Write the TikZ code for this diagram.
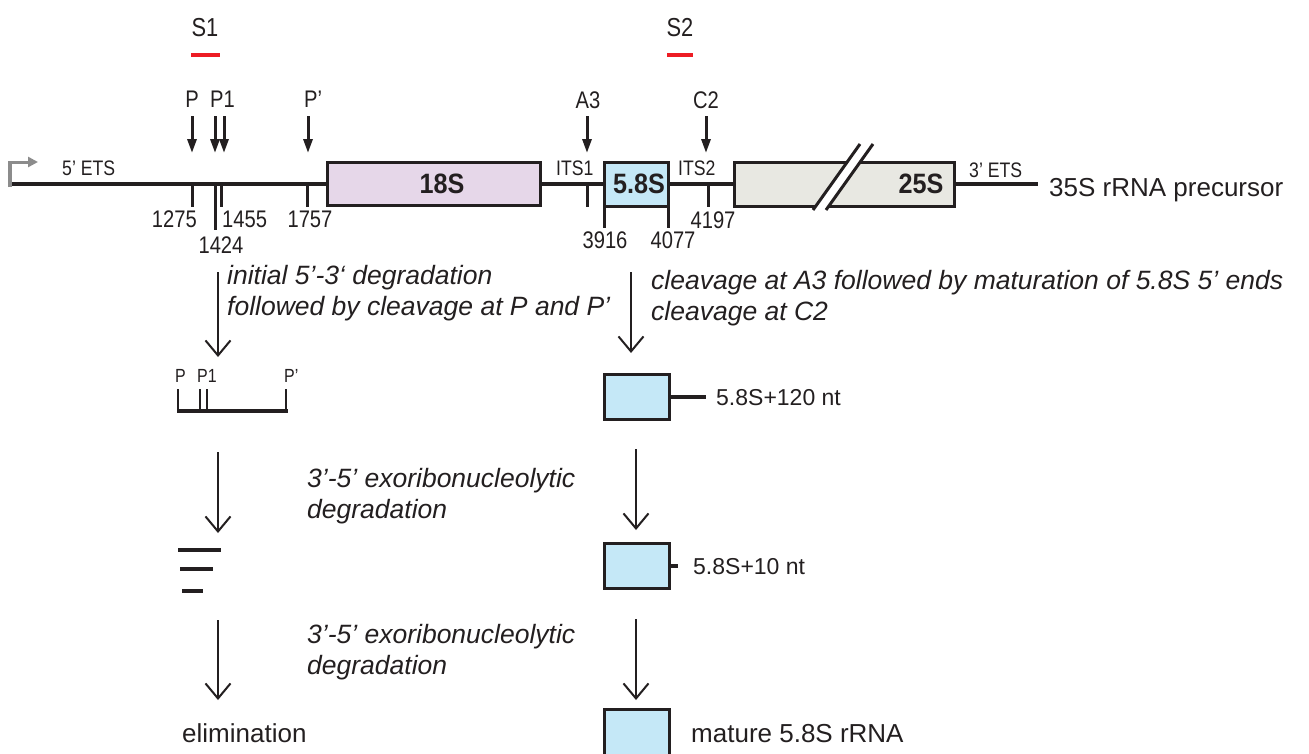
\documentclass[tikz,border=0pt]{standalone}
\usepackage{fontspec}
\setmainfont{Liberation Sans}
\newfontfamily\condf[FakeStretch=0.84]{Liberation Sans}
\newfontfamily\condbf[FakeStretch=0.9]{Liberation Sans Bold}
\usetikzlibrary{arrows.meta}
\definecolor{ink}{HTML}{231F20}
\definecolor{c18}{HTML}{E6D7E9}
\definecolor{c58}{HTML}{C5E8F7}
\definecolor{c25}{HTML}{E8E8E2}
\definecolor{sred}{HTML}{ED1C24}
\definecolor{pgray}{HTML}{8C8C8C}
\newcommand\setfs[1]{\fontsize{#1}{#1}\selectfont}
\tikzset{
  txt/.style={inner sep=0pt, text=ink},
  bigtxt/.style={txt, font=\setfs{26}},
  midtxt/.style={txt, font=\setfs{23}},
  itxt/.style={txt, font=\itshape\setfs{26.5}},
  slbl/.style={txt, font=\condf\setfs{26}},
  clbl/.style={txt, font=\condf\setfs{24}},
  etslbl/.style={txt, font=\condf\setfs{21}},
  tinylbl/.style={txt, font=\condf\setfs{19}},
  boxlbl/.style={txt, font=\condbf\setfs{28}},
  rna/.style={draw=ink, line width=4.5pt},
  tickln/.style={draw=ink, line width=3pt},
  boxln/.style={draw=ink, line width=3pt},
  probe/.style={draw=sred, line width=4pt},
  cutarrow/.style={draw=ink, line width=3pt, -{Triangle[length=14pt,width=9pt]}},
  flowarrow/.style={draw=ink, line width=2pt, -{Straight Barb[length=15pt,width=25pt]}},
}
\begin{document}
\begin{tikzpicture}[x=1pt,y=-1pt]
\useasboundingbox (0,0) rectangle (1309,753);

% probes
\node[slbl, anchor=base] (s1) at (205,36) {S1};
\node[slbl, anchor=base] (s2) at (680,36) {S2};
\coordinate (s1a) at (191,55); \coordinate (s1b) at (220,55);
\coordinate (s2a) at (667,55); \coordinate (s2b) at (693,55);
\draw[probe] (s1a) -- (s1b);
\draw[probe] (s2a) -- (s2b);

% cleavage site labels
\node[clbl, anchor=base] (lP) at (192,107) {P};
\node[clbl, anchor=base west] (lP1) at (210,107) {P1};
\node[clbl, anchor=base west] (lPp) at (304,107) {P’};
\node[clbl, anchor=base] (lA3) at (588,108) {A3};
\node[clbl, anchor=base] (lC2) at (706,108) {C2};

% cleavage arrows
\foreach \n/\x in {P/192, Pa/215, Pb/224, Pp/308, A/587, C/706}{
  \coordinate (t\n) at (\x,116);
  \coordinate (h\n) at (\x,153);
  \draw[cutarrow] (t\n) -- (h\n);
}

% promoter
\coordinate (pr0) at (10,187);
\coordinate (pr1) at (10,162);
\coordinate (pr2) at (38,162);
\draw[draw=pgray, line width=4.5pt] (pr0) -- (10,160.5);
\draw[draw=pgray, line width=3pt, -{Triangle[length=10pt,width=10pt]}] (8,162) -- (pr2);

% main line
\coordinate (m0) at (12,184);
\coordinate (m1) at (1038,184);
\draw[rna] (m0) -- (m1);

% boxes
\draw[boxln, fill=c18] (327,162) rectangle (540,205);
\draw[boxln, fill=c58] (604,162) rectangle (668,206);
\draw[boxln, fill=c25] (734,162) rectangle (954,206);
\fill[white] (813,210) -- (860,144) -- (873,144) -- (826,210) -- cycle;
\draw[boxln] (813,210) -- (860,144);
\draw[boxln] (826,210) -- (873,144);

\node[boxlbl, anchor=base] (n18) at (442,193) {18S};
\node[boxlbl, anchor=base] (n58) at (639,193) {5.8S};
\node[boxlbl, anchor=base] (n25) at (921,193) {25S};

% region labels
\node[etslbl, anchor=base west] (e5) at (62,175) {5’ ETS};
\node[etslbl, anchor=base west] (i1) at (556,175) {ITS1};
\node[etslbl, anchor=base west] (i2) at (678,175) {ITS2};
\node[etslbl, anchor=base west] (e3) at (969,177) {3’ ETS};
\node[bigtxt, anchor=base west] (pre) at (1049,196) {35S rRNA precursor};

% ticks
\draw[tickln] (192,184) -- (192,207);
\draw[tickln] (215,184) -- (215,230);
\draw[tickln] (221,184) -- (221,207);
\draw[tickln] (307,184) -- (307,207);
\draw[tickln] (587,184) -- (587,207);
\draw[tickln] (708,184) -- (708,207);
\draw[tickln] (604,206) -- (604,228);
\draw[tickln] (668,206) -- (668,228);

% coordinates
\node[clbl, anchor=base east] (k1275) at (197,227) {1275};
\node[clbl, anchor=base west] (k1455) at (222,227) {1455};
\node[clbl, anchor=base] (k1424) at (221,253) {1424};
\node[clbl, anchor=base] (k1757) at (310,227) {1757};
\node[clbl, anchor=base] (k3916) at (605,248) {3916};
\node[clbl, anchor=base] (k4077) at (673,248) {4077};
\node[clbl, anchor=base] (k4197) at (713,228) {4197};

% process texts
\node[itxt, anchor=base west] (t1a) at (227,284) {initial 5’-3‘ degradation};
\node[itxt, anchor=base west] (t1b) at (227,315) {followed by cleavage at P and P’};
\node[itxt, anchor=base west] (t2a) at (651,289) {cleavage at A3 followed by maturation of 5.8S 5’ ends};
\node[itxt, anchor=base west] (t2b) at (651,320) {cleavage at C2};
\node[itxt, anchor=base west] (t3a) at (307,487) {3’-5’ exoribonucleolytic};
\node[itxt, anchor=base west] (t3b) at (307,518) {degradation};
\node[itxt, anchor=base west] (t4a) at (307,643) {3’-5’ exoribonucleolytic};
\node[itxt, anchor=base west] (t4b) at (307,674) {degradation};

% flow arrows
\coordinate (L0) at (218,272); \coordinate (L1) at (218,357);
\coordinate (L2) at (218,452); \coordinate (L3) at (218,533);
\coordinate (L4) at (218,620); \coordinate (L5) at (218,700);
\coordinate (R0) at (631,272); \coordinate (R1) at (631,353);
\coordinate (R2) at (636,449); \coordinate (R3) at (636,530);
\coordinate (R4) at (636,619); \coordinate (R5) at (636,700);
\draw[flowarrow] (L0) -- (L1);
\draw[flowarrow] (L2) -- (L3);
\draw[flowarrow] (L4) -- (L5);
\draw[flowarrow] (R0) -- (R1);
\draw[flowarrow] (R2) -- (R3);
\draw[flowarrow] (R4) -- (R5);

% P-P' fragment
\node[tinylbl, anchor=base west] (fP) at (175,382) {P};
\node[tinylbl, anchor=base west] (fP1) at (197,382) {P1};
\node[tinylbl, anchor=base west] (fPp) at (284,382) {P’};
\draw[draw=ink, line width=4pt] (177,411) -- (288,411);
\foreach \x in {178,200,207,286}{\draw[draw=ink, line width=2.5pt] (\x,389) -- (\x,411);}

% degradation products
\draw[rna] (178,550) -- (221,550);
\draw[rna] (180,569) -- (213,569);
\draw[rna] (182,591) -- (203,591);
\node[bigtxt, anchor=base west] (elim) at (182,742) {elimination};

% 5.8S intermediates
\draw[boxln, fill=c58] (604,374) rectangle (669,419);
\draw[rna] (669,397) -- (706,397);
\node[midtxt, anchor=base west] (i120) at (716,405) {5.8S+120 nt};
\draw[boxln, fill=c58] (604,543) rectangle (669,588);
\draw[rna] (669,566) -- (678,566);
\node[midtxt, anchor=base west] (i10) at (693,574) {5.8S+10 nt};
\draw[boxln, fill=c58] (604,709) rectangle (669,770);
\node[bigtxt, anchor=base west] (mat) at (691,742) {mature 5.8S rRNA};
\end{tikzpicture}
\end{document}
